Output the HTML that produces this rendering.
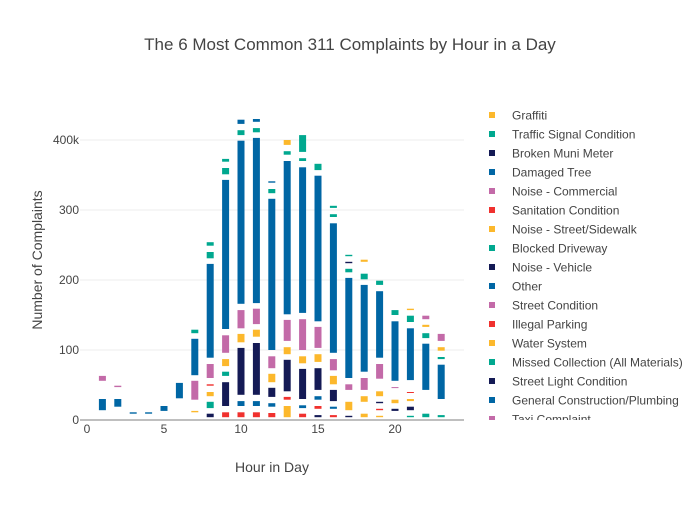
<!DOCTYPE html>
<html><head><meta charset="utf-8"><style>
body{margin:0;background:#fff;font-family:"Liberation Sans",sans-serif;}
</style></head><body>
<svg width="700" height="500" xmlns="http://www.w3.org/2000/svg" style="font-family:'Liberation Sans',sans-serif">
<text x="350" y="50" text-anchor="middle" font-size="17" fill="#444">The 6 Most Common 311 Complaints by Hour in a Day</text>
<g id="grid"></g>
<g id="bars"></g>
<g id="axes"></g>
<text x="272" y="472" text-anchor="middle" font-size="14" fill="#444">Hour in Day</text>
<text transform="translate(42,260) rotate(-90)" text-anchor="middle" font-size="14" fill="#444">Number of Complaints</text>
<defs><clipPath id="lc"><rect x="470" y="100" width="230" height="320"/></clipPath></defs>
<g id="legend" clip-path="url(#lc)"></g>
</svg>
<script>
const colors=["#fcb82c","#00a88f","#141a55","#0066a4","#c36aa8","#f0312e"];
const seriesNames=["Graffiti","Traffic Signal Condition","Broken Muni Meter","Damaged Tree","Noise - Commercial","Sanitation Condition","Noise - Street/Sidewalk","Blocked Driveway","Noise - Vehicle","Other","Street Condition","Illegal Parking","Water System","Missed Collection (All Materials)","Street Light Condition","General Construction/Plumbing","Taxi Complaint"];
const yTicks=[0,100,200,300,400];
const yTickLabels=["0","100","200","300","400k"];
const xTicks=[0,5,10,15,20];
// segments: [hour, colorIndex(0 yellow,1 teal,2 navy,3 blue,4 pink,5 red), low, high] in thousands
const segments=[
[1,4,56,63],[1,3,14,30],
[2,4,47,49],[2,3,19,30],
[3,3,9,11],[4,3,9,11],[5,3,13,20],[6,3,31,53],
[7,1,124,129],[7,3,64,116],[7,4,29,56],[7,0,11,13],
[8,1,249,254],[8,1,231,240],[8,3,89,223],[8,4,60,80],[8,5,49,51],[8,0,34,40],[8,1,17,26],[8,2,4,9],
[9,1,369,373],[9,1,351,360],[9,3,130,343],[9,4,96,121],[9,0,77,87],[9,1,63,69],[9,2,20,54],[9,5,4,11],
[10,3,423,429],[10,1,407,414],[10,3,166,399],[10,4,131,157],[10,0,111,123],[10,2,36,103],[10,3,20,27],[10,5,4,11],
[11,3,426,430],[11,1,411,417],[11,3,167,403],[11,4,137,159],[11,0,119,129],[11,2,36,110],[11,3,20,27],[11,5,4,11],
[12,3,339,341],[12,1,324,330],[12,3,100,316],[12,4,74,91],[12,0,54,66],[12,2,33,46],[12,3,19,24],[12,5,4,10],
[13,0,393,400],[13,1,379,384],[13,3,151,370],[13,4,113,143],[13,0,94,104],[13,2,41,86],[13,5,29,33],[13,0,4,20],
[14,1,383,407],[14,1,370,374],[14,3,153,361],[14,4,100,144],[14,0,81,91],[14,2,30,73],[14,3,17,21],[14,5,4,9],
[15,1,357,366],[15,3,141,349],[15,4,103,133],[15,0,83,94],[15,2,43,74],[15,3,29,34],[15,5,16,20],[15,2,4,7],
[16,1,303,306],[16,1,290,294],[16,3,96,281],[16,4,71,87],[16,0,51,63],[16,2,27,43],[16,3,16,19],[16,5,4,7],
[17,1,234,236],[17,2,224,226],[17,1,211,216],[17,3,60,203],[17,4,43,51],[17,0,14,26],[17,2,4,6],
[18,0,226,229],[18,1,201,209],[18,3,69,193],[18,4,43,60],[18,0,26,34],[18,0,4,9],
[19,1,193,199],[19,3,89,184],[19,4,59,80],[19,0,34,41],[19,2,24,26],[19,5,14,16],[19,0,4,6],
[20,1,150,157],[20,3,56,141],[20,4,46,47],[20,0,24,29],[20,2,13,16],
[21,0,157,159],[21,1,140,149],[21,3,57,131],[21,5,39,40],[21,0,27,30],[21,2,14,19],[21,1,4,6],
[22,4,144,149],[22,0,133,136],[22,1,117,124],[22,3,43,109],[22,1,4,9],
[23,4,113,123],[23,0,99,104],[23,1,87,90],[23,3,30,79],[23,1,4,7]
];
const NS="http://www.w3.org/2000/svg";
const X0=80,X1=464,Y0=420;
function xs(h){return 87+h*15.4;}
function ys(v){return Y0-v*0.7;}
function mk(tag,attrs,parent){const e=document.createElementNS(NS,tag);for(const k in attrs)e.setAttribute(k,attrs[k]);parent.appendChild(e);return e;}
const grid=document.getElementById('grid'),bars=document.getElementById('bars'),axes=document.getElementById('axes'),legend=document.getElementById('legend');
yTicks.forEach((t,i)=>{
  if(t>0){const l=mk('line',{x1:X0,x2:X1,y1:ys(t),y2:ys(t),stroke:'#eee','stroke-width':1},grid);
  
  }
  const tx=mk('text',{x:X0-1,y:ys(t)+4,'text-anchor':'end','font-size':12,fill:'#444'},axes);
  tx.textContent=yTickLabels[i];
  
  
});
xTicks.forEach(t=>{
  const tx=mk('text',{x:xs(t),y:433,'text-anchor':'middle','font-size':12,fill:'#444'},axes);
  tx.textContent=t;
  
  
});
const zl=mk('line',{x1:X0,x2:X1,y1:Y0,y2:Y0,stroke:'#aaa','stroke-width':1.5},axes);


segments.forEach(s=>{
  const y1=ys(s[3]),y0=ys(s[2]);
  const r=mk('rect',{x:xs(s[0])-3.5,y:y1,width:7,height:Math.max(1,y0-y1),fill:colors[s[1]]},bars);
  
  
});
seriesNames.forEach((n,i)=>{
  const y=115+i*19;
  const g=mk('g',{},legend);
  
  
  mk('rect',{x:489,y:y-3,width:6,height:6,fill:colors[i%6]},g);
  const t=mk('text',{x:512,y:y+4.5,'font-size':12,fill:'#444'},g);
  t.textContent=n;
});
</script>
</body></html>
